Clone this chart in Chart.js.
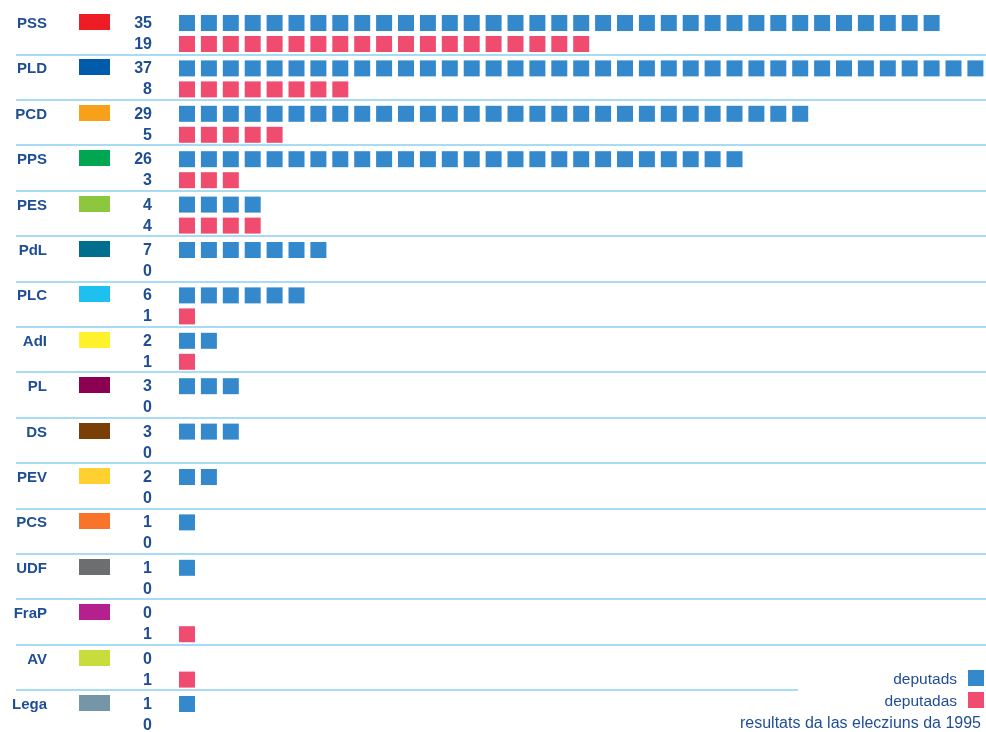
<!DOCTYPE html>
<html>
<head>
<meta charset="utf-8">
<script src="https://cdn.jsdelivr.net/npm/chart.js@4.4.1/dist/chart.umd.min.js"></script>
<style>
  html, body { margin: 0; padding: 0; background: #ffffff; }
  #wrap { width: 986px; height: 732px; position: relative; }
</style>
</head>
<body>
<div id="wrap"><canvas id="c" width="986" height="732"></canvas></div>
<script>
// ---- data ----
const parties = ['PSS','PLD','PCD','PPS','PES','PdL','PLC','AdI','PL','DS','PEV','PCS','UDF','FraP','AV','Lega'];
const partyColors = ['#ee1c25','#005baa','#f7a11a','#00a651','#8dc63f','#006f8e','#1dc0ef','#fff22d','#8b0050','#7a3e07','#ffd030','#f7742a','#6d6e70','#b5208f','#c8dc3c','#7496a6'];
const deputads = [35,37,29,26,4,7,6,2,3,3,2,1,1,0,0,1];
const deputadas = [19,8,5,3,4,0,1,1,0,0,0,0,0,1,1,0];
const seriesLabels = ['deputads','deputadas'];
const caption = 'resultats da las elecziuns da 1995';

// ---- styles ----
const BLUE = '#3389cc';
const PINK = '#ef4c70';
const TEXT = '#1f4e94';
const SEP = '#a7dcf4';
const PINK_ROW = 0.4626;   // offset of the second row inside a party block
const SEP_ROW = 0.694;     // offset of the separator line inside a party block

function unitPoints(counts, offset) {
  const pts = [];
  counts.forEach((n, k) => {
    for (let i = 0; i < n; i++) pts.push({ x: i, y: k + offset });
  });
  return pts;
}

const labelsPlugin = {
  id: 'labelsPlugin',
  beforeDatasetsDraw(chart) {
    const ctx = chart.ctx;
    const y = chart.scales.y;
    ctx.save();
    ctx.strokeStyle = SEP;
    ctx.lineWidth = 2;
    for (let k = 0; k < parties.length - 1; k++) {
      const py = Math.round(y.getPixelForValue(k + SEP_ROW));
      const xEnd = (k === parties.length - 2) ? 798 : 986;
      ctx.beginPath();
      ctx.moveTo(16, py);
      ctx.lineTo(xEnd, py);
      ctx.stroke();
    }
    ctx.restore();
  },
  afterDatasetsDraw(chart) {
    const ctx = chart.ctx;
    const y = chart.scales.y;
    ctx.save();
    parties.forEach((p, k) => {
      const yb = y.getPixelForValue(k);
      const yp = y.getPixelForValue(k + PINK_ROW);
      ctx.fillStyle = TEXT;
      ctx.textAlign = 'right';
      ctx.textBaseline = 'alphabetic';
      ctx.font = 'bold 15px "Liberation Sans", Arial, sans-serif';
      ctx.fillText(p, 47, yb + 5);
      ctx.font = 'bold 16px "Liberation Sans", Arial, sans-serif';
      ctx.fillText(String(deputads[k]), 152, yb + 5);
      ctx.fillText(String(deputadas[k]), 152, yp + 5);
      ctx.fillStyle = partyColors[k];
      ctx.fillRect(79, Math.round(yb) - 9, 31, 16);
    });
    // legend
    ctx.textAlign = 'right';
    ctx.fillStyle = TEXT;
    ctx.font = '15.5px "Liberation Sans", Arial, sans-serif';
    ctx.fillText(seriesLabels[0], 957, 684);
    ctx.fillText(seriesLabels[1], 957, 706);
    ctx.font = '16px "Liberation Sans", Arial, sans-serif';
    ctx.fillText(caption, 981, 728);
    ctx.fillStyle = BLUE;
    ctx.fillRect(968, 670, 16, 16);
    ctx.fillStyle = PINK;
    ctx.fillRect(968, 692, 16, 16);
    ctx.restore();
  }
};

const R = 8 * Math.SQRT2;
new Chart(document.getElementById('c'), {
  type: 'scatter',
  data: {
    datasets: [
      { label: seriesLabels[0], data: unitPoints(deputads, 0), backgroundColor: BLUE, pointStyle: 'rect', pointRadius: R, pointHoverRadius: R, borderWidth: 0 },
      { label: seriesLabels[1], data: unitPoints(deputadas, PINK_ROW), backgroundColor: PINK, pointStyle: 'rect', pointRadius: R, pointHoverRadius: R, borderWidth: 0 }
    ]
  },
  options: {
    responsive: false,
    animation: false,
    events: [],
    layout: { padding: 0, autoPadding: false },
    plugins: { legend: { display: false }, tooltip: { enabled: false } },
    scales: {
      x: { type: 'linear', display: false, min: -187 / 21.9, max: (986 - 187) / 21.9 },
      y: { type: 'linear', display: false, reverse: true, min: -23 / 45.4, max: (732 - 23) / 45.4 }
    }
  },
  plugins: [labelsPlugin]
});
</script>
</body>
</html>
